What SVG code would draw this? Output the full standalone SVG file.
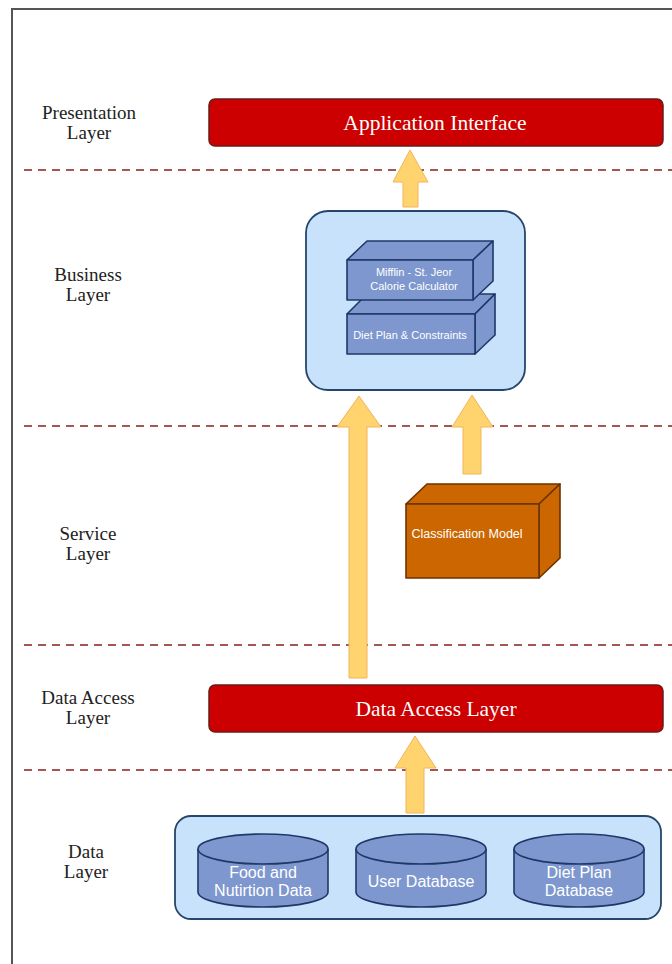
<svg xmlns="http://www.w3.org/2000/svg" width="672" height="964" viewBox="0 0 672 964">
<style>
.frame{stroke:#555;stroke-width:2;fill:none}
.sep{stroke:#A65555;stroke-width:2;stroke-dasharray:8 6;fill:none}
.lbl{font-family:"Liberation Serif","Times New Roman",serif;font-size:19px;fill:#222;text-anchor:middle}
.bar{fill:#CC0000;stroke:#6B1A1A;stroke-width:1.5}
.bartxt{font-family:"Liberation Serif","Times New Roman",serif;font-size:21.5px;fill:#fff;text-anchor:middle}
.arrow{fill:#FFD36E;stroke:#F2B45A;stroke-width:1}
.panel{fill:#C9E2FB;stroke:#25466B;stroke-width:1.8}
.blue{fill:#7E97CE;stroke:#1F3868;stroke-width:1.6;stroke-linejoin:round}
.orange{fill:#CC6600;stroke:#6B3300;stroke-width:1.6;stroke-linejoin:round}
.wt{font-family:"Liberation Sans",Arial,sans-serif;fill:#fff;text-anchor:middle}
</style>
<rect width="672" height="964" fill="#fff"/>
<path class="frame" d="M12 964 V9 H672"/>
<g id="separators">
<line class="sep" x1="24" y1="170" x2="672" y2="170"/>
<line class="sep" x1="24" y1="426" x2="672" y2="426"/>
<line class="sep" x1="24" y1="645" x2="672" y2="645"/>
<line class="sep" x1="24" y1="770" x2="672" y2="770"/>
</g>
<g id="layer-labels">
<text class="lbl" x="89" y="119">Presentation</text><text class="lbl" x="89" y="139">Layer</text>
<text class="lbl" x="88" y="281">Business</text><text class="lbl" x="88" y="301">Layer</text>
<text class="lbl" x="88" y="540">Service</text><text class="lbl" x="88" y="560">Layer</text>
<text class="lbl" x="88" y="704">Data Access</text><text class="lbl" x="88" y="724">Layer</text>
<text class="lbl" x="86" y="858">Data</text><text class="lbl" x="86" y="878">Layer</text>
</g>
<g id="connectors">
<path class="arrow" d="M403 207 V182 H393 L410 150 L428 182 H418 V207 Z"/>
<path class="arrow" d="M349 678 V427 H337 L359 396 L381 427 H367 V678 Z"/>
<path class="arrow" d="M463 474 V427 H452 L472 395 L493 427 H481 V474 Z"/>
<path class="arrow" d="M406 813 V768 H395 L415 736 L436 768 H424 V813 Z"/>
</g>
<g id="application-interface">
<rect class="bar" x="209" y="99" width="454" height="47" rx="6"/>
<text class="bartxt" x="435" y="130">Application Interface</text>
</g>
<g id="business-layer">
<rect class="panel" x="306" y="211" width="219" height="179" rx="22"/>
</g>
<g id="diet-plan">
<path class="blue" d="M347 314 L367 294 H495 L475 314 Z"/>
<path class="blue" d="M475 314 L495 294 V335 L475 354 Z"/>
<rect class="blue" x="347" y="314" width="128" height="40"/>
<text class="wt" x="410" y="339" font-size="11">Diet Plan &amp; Constraints</text>
</g>
<g id="mifflin">
<path class="blue" d="M347 260 L367 241 H493 L473 260 Z"/>
<path class="blue" d="M473 260 L493 241 V281 L473 300 Z"/>
<rect class="blue" x="347" y="260" width="126" height="40"/>
<text class="wt" x="414" y="276" font-size="11">Mifflin - St. Jeor</text>
<text class="wt" x="414" y="290" font-size="11">Calorie Calculator</text>
</g>
<g id="classification-model">
<path class="orange" d="M406 504 L427 484 H560 L539 504 Z"/>
<path class="orange" d="M539 504 L560 484 V558 L539 578 Z"/>
<rect class="orange" x="406" y="504" width="133" height="74"/>
<text class="wt" x="467" y="538" font-size="12.5">Classification Model</text>
</g>
<g id="data-access-layer">
<rect class="bar" x="209" y="685" width="454" height="47" rx="6"/>
<text class="bartxt" x="436" y="716">Data Access Layer</text>
</g>
<g id="data-layer">
<rect class="panel" x="175" y="816" width="486" height="103" rx="16"/>
</g>
<g id="food-db">
<path class="blue" d="M198 849 V892 A65 15 0 0 0 328 892 V849"/>
<ellipse class="blue" cx="263" cy="849" rx="65" ry="15"/>
<text class="wt" x="263" y="878" font-size="16">Food and</text>
<text class="wt" x="263" y="896" font-size="16">Nutirtion Data</text>
</g>
<g id="user-db">
<path class="blue" d="M356 849 V892 A65 15 0 0 0 486 892 V849"/>
<ellipse class="blue" cx="421" cy="849" rx="65" ry="15"/>
<text class="wt" x="421" y="887" font-size="16">User Database</text>
</g>
<g id="diet-db">
<path class="blue" d="M514 849 V892 A65 15 0 0 0 644 892 V849"/>
<ellipse class="blue" cx="579" cy="849" rx="65" ry="15"/>
<text class="wt" x="579" y="878" font-size="16">Diet Plan</text>
<text class="wt" x="579" y="896" font-size="16">Database</text>
</g>
</svg>
